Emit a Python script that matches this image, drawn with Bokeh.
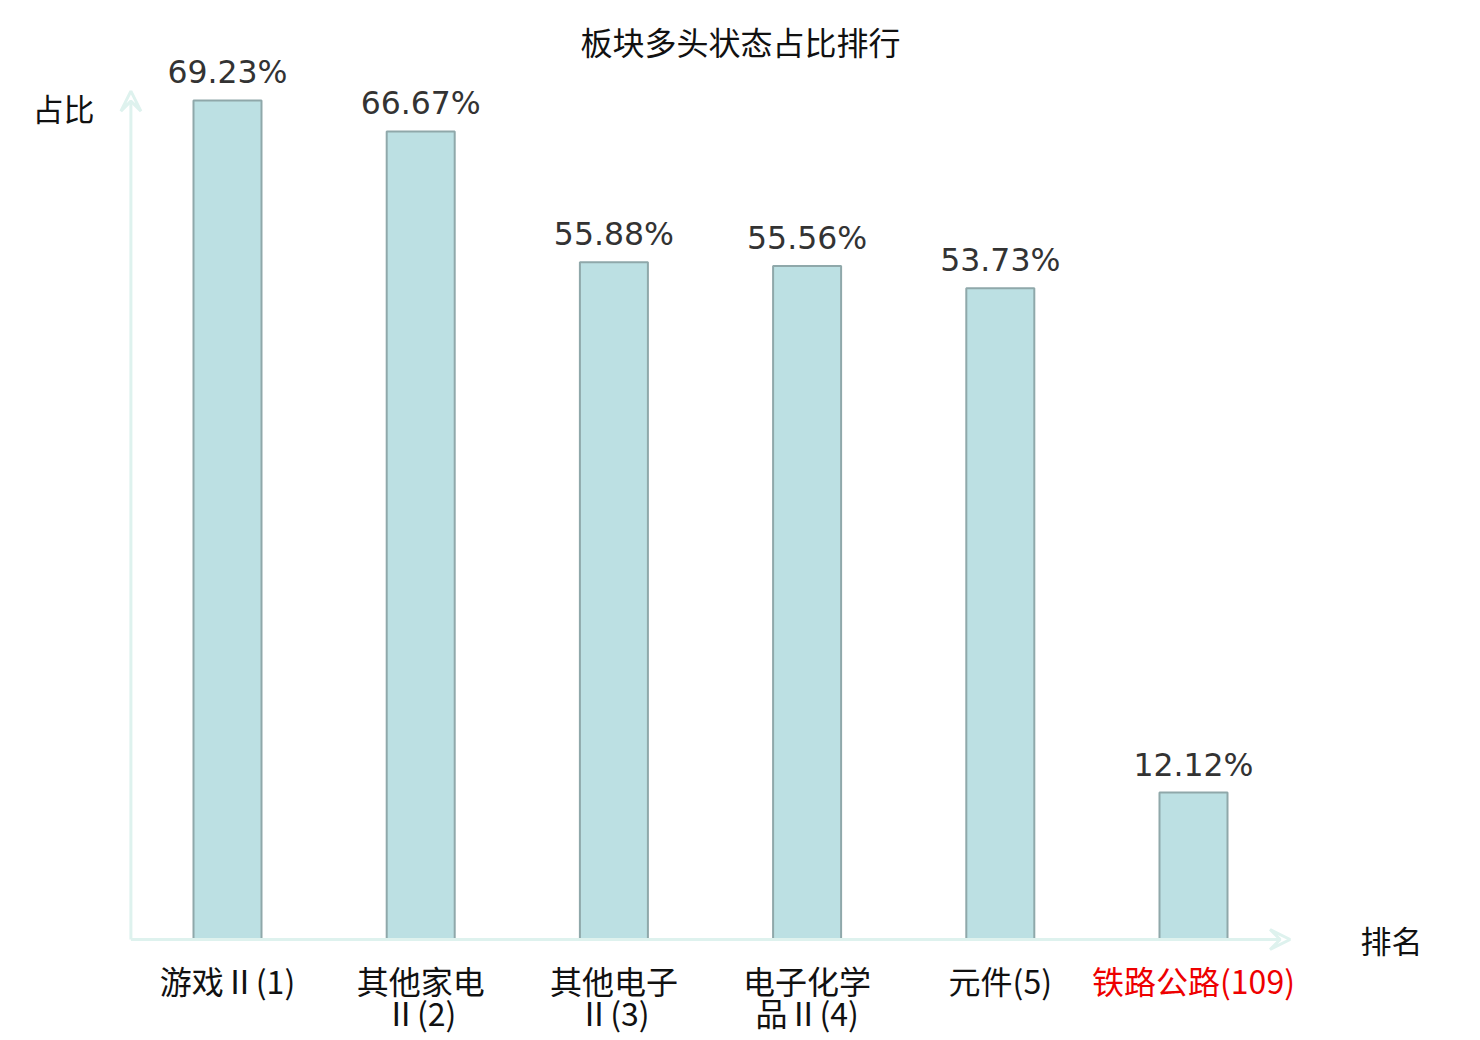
from bokeh.plotting import figure
from bokeh.models import Range1d, Arrow, VeeHead, Label, ColumnDataSource
from bokeh.core.properties import value
from bokeh.embed import file_html
from bokeh.resources import INLINE

# ---- data ----
categories = ["游戏Ⅱ(1)", "其他家电\nⅡ(2)", "其他电子\nⅡ(3)", "电子化学\n品Ⅱ(4)", "元件(5)", "铁路公路(109)"]
ratios = [69.23, 66.67, 55.88, 55.56, 53.73, 12.12]
ratio_labels = ["69.23%", "66.67%", "55.88%", "55.56%", "53.73%", "12.12%"]
label_colors = ["#111111", "#111111", "#111111", "#111111", "#111111", "#ee0000"]
title_text = "板块多头状态占比排行"
y_name = "占比"
x_name = "排名"

# ---- geometry (pixels) ----
W, H = 1472, 1039
PX_PER_UNIT_Y = 12.12
ZERO_Y = 939          # canvas y of value 0
STEP_X = 193.2
FIRST_X = 227         # canvas x of first bar centre

def dy(px):
    return px / PX_PER_UNIT_Y

def cx(px):
    return (px - FIRST_X) / STEP_X

def cy(px):
    return (ZERO_Y - px) / PX_PER_UNIT_Y

y_start = -(H - ZERO_Y) / PX_PER_UNIT_Y
y_end = ZERO_Y / PX_PER_UNIT_Y
x_start = -FIRST_X / STEP_X
x_end = (W - FIRST_X) / STEP_X

p = figure(width=W, height=H, output_backend="svg", toolbar_location=None,
           x_axis_type=None, y_axis_type=None, min_border=0,
           x_range=Range1d(x_start, x_end), y_range=Range1d(y_start, y_end))
p.grid.visible = False
p.outline_line_color = None

xs = list(range(len(categories)))
line1 = [c.split("\n")[0] for c in categories]
line2 = [c.split("\n")[1] if "\n" in c else "" for c in categories]
src = ColumnDataSource(dict(x=xs, top=ratios, lab=ratio_labels, l1=line1, l2=line2, col=label_colors,
                            ly=[r + dy(10) for r in ratios]))

axis_col = "#def2ee"
p.add_layout(Arrow(x_start=-0.5, y_start=0, x_end=5.5, y_end=0,
                   line_color=axis_col, line_width=3,
                   end=VeeHead(size=20, line_color=axis_col, line_width=3, fill_color=None)))
p.add_layout(Arrow(x_start=-0.5, y_start=0, x_end=-0.5, y_end=70.0,
                   line_color=axis_col, line_width=3,
                   end=VeeHead(size=20, line_color=axis_col, line_width=3, fill_color=None)))

p.vbar(x="x", top="top", bottom=0, width=0.352, source=src,
       fill_color="#bce0e3", line_color="#8fa8aa", line_width=2)

p.text(x="x", y="ly", text="lab", source=src, text_font=value("DejaVu Sans"),
       text_font_size="31.5px", text_color="#333333", text_align="center", text_baseline="bottom")

p.text(x="x", y=cy(979), text="l1", source=src, text_font=value("Noto Sans CJK SC"),
       text_font_size="32px", text_color="col", text_align="center", text_baseline="middle")
p.text(x="x", y=cy(1011), text="l2", source=src, text_font=value("Noto Sans CJK SC"),
       text_font_size="32px", text_color="col", text_align="center", text_baseline="middle")

p.add_layout(Label(x=cx(740), y=cy(40), text=title_text,
                   text_font="Noto Sans CJK SC", text_font_size="32px", text_color="#111111",
                   text_align="center", text_baseline="middle"))
p.add_layout(Label(x=cx(63), y=cy(107), text=y_name,
                   text_font="Noto Sans CJK SC", text_font_size="31px", text_color="#111111",
                   text_align="center", text_baseline="middle"))
p.add_layout(Label(x=cx(1391), y=cy(939), text=x_name,
                   text_font="Noto Sans CJK SC", text_font_size="31px", text_color="#111111",
                   text_align="center", text_baseline="middle"))

open("out.html", "w").write(file_html(p, INLINE))
